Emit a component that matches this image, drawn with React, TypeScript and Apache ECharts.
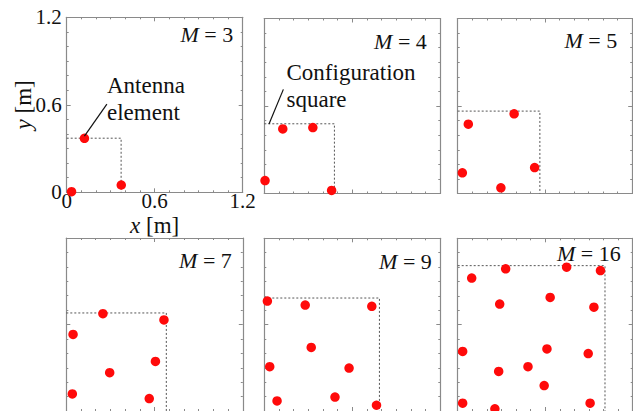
import React, { useEffect, useRef } from "react";
import * as echarts from "echarts";

// Element counts shown in each panel
const elementCounts = [3, 4, 5, 7, 9, 16];

// Antenna element positions [x, y] in metres, one list per panel
const elementsM3 = [[0.033, 0.004], [0.372, 0.05], [0.121, 0.37]];
const elementsM4 = [[0.126, 0.443], [0.331, 0.452], [0.005, 0.089], [0.459, 0.021]];
const elementsM5 = [[0.388, 0.546], [0.073, 0.475], [0.032, 0.142], [0.529, 0.178], [0.297, 0.039]];
const elementsM7 = [
  [0.249, 0.675], [0.664, 0.632], [0.046, 0.531], [0.606, 0.344],
  [0.295, 0.266], [0.041, 0.118], [0.564, 0.086],
];
const elementsM9 = [
  [0.021, 0.764], [0.279, 0.736], [0.733, 0.727], [0.32, 0.442], [0.037, 0.308],
  [0.578, 0.298], [0.087, 0.07], [0.482, 0.097], [0.765, 0.04],
];
const elementsM16 = [
  [0.096, 0.924], [0.329, 0.988], [0.747, 0.999], [0.979, 0.976],
  [0.288, 0.743], [0.634, 0.789], [0.934, 0.721], [0.034, 0.414],
  [0.612, 0.431], [0.895, 0.399], [0.281, 0.275], [0.482, 0.308],
  [0.593, 0.177], [0.034, 0.054], [0.255, 0.015], [0.908, 0.054],
];
const elementSets = [elementsM3, elementsM4, elementsM5, elementsM7, elementsM9, elementsM16];

// Side length of each configuration square (m)
const squareSides = [0.371, 0.478, 0.565, 0.68, 0.785, 1.01];

// Axis range and labelled ticks (m)
const axisMin = 0;
const axisMax = 1.2;
const axisStep = 0.6;
const minorPerStep = 6;

// Leader lines for the two callouts, [from, to] in metres
const antennaLeader = [[0.121, 0.385], [0.274, 0.605]];
const squareLeader = [[0.032, 0.476], [0.13, 0.714]];

// Panel placement in pixels
const panelBoxes = [
  { left: 66.7, top: 17.3, width: 176 },
  { left: 264.3, top: 18.5, width: 176 },
  { left: 457.7, top: 18.5, width: 174.5 },
  { left: 66.3, top: 238, width: 176.5 },
  { left: 264.3, top: 238.3, width: 176 },
  { left: 457.7, top: 238.3, width: 175 },
];
const panelHeight = 175;
// Where each "M = n" title sits: inset from the right edge and centre offset from the top
const titleSpots = [
  { inset: 9.5, dy: 17 },
  { inset: 13.5, dy: 22.5 },
  { inset: 15, dy: 22 },
  { inset: 11, dy: 22.5 },
  { inset: 8.5, dy: 23 },
  { inset: 12, dy: 15 },
];

const FONT = "'Liberation Serif', 'Times New Roman', 'DejaVu Serif', serif";
const FRAME = "#8a8a8a";

function makeAxis(dim: "x" | "y", gridIndex: number, position: string, labelled: boolean) {
  const axis: any = {
    type: "value",
    gridIndex,
    position,
    min: axisMin,
    max: axisMax,
    interval: axisStep,
    axisLine: { show: true, onZero: false, lineStyle: { color: FRAME, width: 1.2 } },
    axisTick: { show: true, inside: true, length: 4, lineStyle: { color: FRAME, width: 1 } },
    minorTick: { show: true, splitNumber: minorPerStep, length: 2, lineStyle: { color: FRAME, width: 1 } },
    splitLine: { show: false },
    minorSplitLine: { show: false },
    axisLabel: {
      show: labelled,
      fontFamily: FONT,
      fontSize: 21,
      color: "#111",
      margin: dim === "x" ? 1 : 5,
      lineHeight: dim === "x" ? 16 : 21,
      formatter: (v: number) => String(Math.round(v * 10) / 10),
    },
  };
  if (labelled) {
    axis.name = dim === "x" ? "{i|x} [m]" : "{i|y} [m]";
    axis.nameLocation = "middle";
    axis.nameGap = dim === "x" ? 22 : 32;
    axis.nameMoveOverlap = false;
    axis.nameTextStyle = {
      fontFamily: FONT,
      fontSize: 23,
      color: "#111",
      rich: { i: { fontFamily: FONT, fontSize: 23, fontStyle: "italic", color: "#111" } },
    };
  }
  return axis;
}

export default function App() {
  const ref = useRef<HTMLDivElement>(null);

  useEffect(() => {
    if (!ref.current) return;
    const chart = echarts.init(ref.current, null, { renderer: "svg" });

    const grids: any[] = [];
    const xAxes: any[] = [];
    const yAxes: any[] = [];
    const series: any[] = [];
    const graphics: any[] = [];

    panelBoxes.forEach((box, i) => {
      grids.push({ left: box.left, top: box.top, width: box.width, height: panelHeight });
      xAxes.push(makeAxis("x", i, "bottom", i === 0));
      xAxes.push(makeAxis("x", i, "top", false));
      yAxes.push(makeAxis("y", i, "left", i === 0));
      yAxes.push(makeAxis("y", i, "right", false));

      const s = squareSides[i];
      series.push({
        type: "line",
        xAxisIndex: 2 * i,
        yAxisIndex: 2 * i,
        data: [[0, s], [s, s], [s, 0]],
        symbol: "none",
        clip: false,
        lineStyle: { color: "#555", width: 1, type: [2, 2] },
        z: 2,
      });
      series.push({
        type: "scatter",
        xAxisIndex: 2 * i,
        yAxisIndex: 2 * i,
        data: elementSets[i],
        symbolSize: 9.5,
        clip: false,
        itemStyle: { color: "#ff0a0a", opacity: 1 },
        z: 4,
      });

      const spot = titleSpots[i];
      graphics.push({
        type: "text",
        x: box.left + box.width - spot.inset,
        y: box.top + spot.dy,
        style: {
          text: `{i|M} = ${elementCounts[i]}`,
          fontFamily: FONT,
          fontSize: 22,
          fill: "#111",
          align: "right",
          verticalAlign: "middle",
          rich: { i: { fontFamily: FONT, fontSize: 22, fontStyle: "italic", fill: "#111" } },
        },
        z: 10,
      });
    });

    // Callout leader lines
    [
      { grid: 0, pts: antennaLeader },
      { grid: 1, pts: squareLeader },
    ].forEach((c) => {
      series.push({
        type: "line",
        xAxisIndex: 2 * c.grid,
        yAxisIndex: 2 * c.grid,
        data: c.pts,
        symbol: "none",
        clip: false,
        lineStyle: { color: "#111", width: 1.2 },
        z: 5,
      });
    });

    graphics.push({
      type: "text",
      x: 107,
      y: 71.5,
      style: {
        text: "Antenna\nelement",
        fontFamily: FONT,
        fontSize: 23,
        lineHeight: 27,
        fill: "#111",
        align: "left",
        verticalAlign: "top",
      },
      z: 10,
    });
    graphics.push({
      type: "text",
      x: 286.5,
      y: 58.5,
      style: {
        text: "Configuration\nsquare",
        fontFamily: FONT,
        fontSize: 23,
        lineHeight: 27,
        fill: "#111",
        align: "left",
        verticalAlign: "top",
      },
      z: 10,
    });

    chart.setOption({
      animation: false,
      backgroundColor: "#ffffff",
      grid: grids,
      xAxis: xAxes,
      yAxis: yAxes,
      series,
      graphic: graphics,
    });

    return () => chart.dispose();
  }, []);

  return <div ref={ref} style={{ width: 633, height: 411, position: "absolute", left: 0, top: 0 }} />;
}
